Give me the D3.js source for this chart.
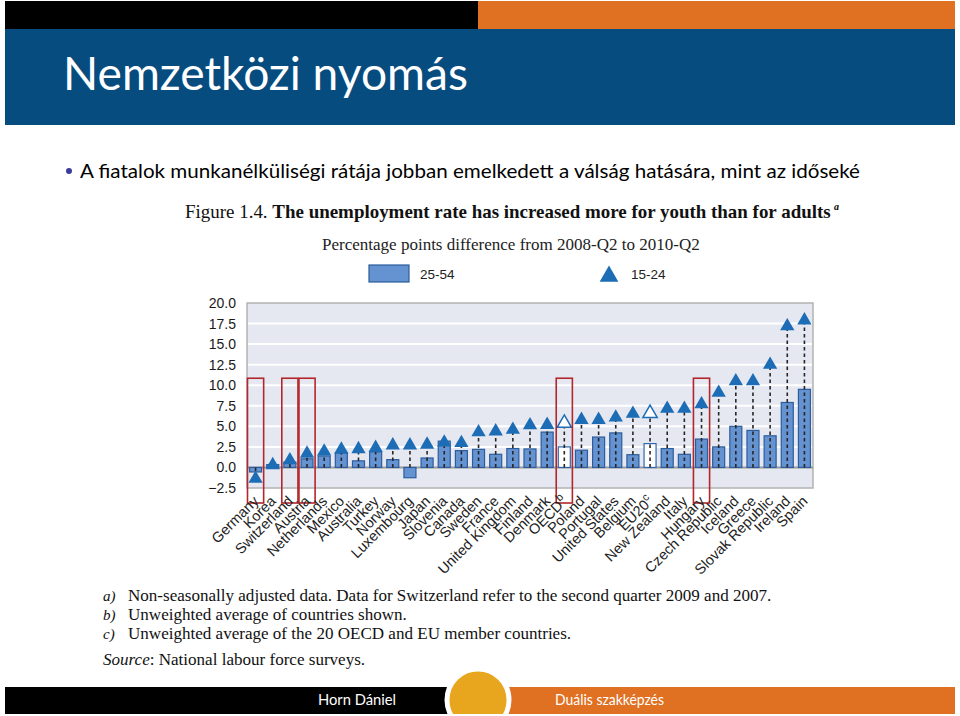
<!DOCTYPE html>
<html><head><meta charset="utf-8">
<script src="https://cdn.jsdelivr.net/npm/d3@7"></script>
<style>body{margin:0;background:#fff} svg{display:block}</style>
</head><body>
<svg id="c" width="960" height="716"></svg>
<script>
const countries = ["Germany","Korea","Switzerland","Austria","Netherlands","Mexico","Australia","Turkey","Norway","Luxembourg","Japan","Slovenia","Canada","Sweden","France","United Kingdom","Finland","Denmark","OECD","Poland","Portugal","United States","Belgium","EU20","New Zealand","Italy","Hungary","Czech Republic","Iceland","Greece","Slovak Republic","Ireland","Spain"];
const superscripts = {"OECD":"b","EU20":"c"};
const adults = [-0.55,0.35,0.65,1.05,1.4,1.75,0.8,1.9,0.95,-1.25,1.15,3.2,2.05,2.2,1.6,2.3,2.25,4.3,2.5,2.1,3.7,4.2,1.55,2.9,2.3,1.6,3.45,2.5,5.0,4.5,3.85,7.9,9.5];
const youth = [-1.15,0.5,1.1,1.9,2.15,2.4,2.45,2.6,2.9,2.9,3.0,3.25,3.2,4.5,4.6,4.8,5.35,5.4,5.6,6.0,6.0,6.3,6.75,6.8,7.35,7.35,7.9,9.3,10.7,10.7,12.7,17.4,18.1];
const averages = ["OECD","EU20"];
const highlighted = ["Germany","Switzerland","Austria","OECD","Hungary"];
const yTicks = [-2.5,0,2.5,5,7.5,10,12.5,15,17.5,20];
const seriesNames = ["25-54","15-24"];

const svg = d3.select("#c");

// ---------- slide header ----------
svg.append("rect").attr("x",5).attr("y",1).attr("width",473).attr("height",28).attr("fill","#000");
svg.append("rect").attr("x",478).attr("y",1).attr("width",477).attr("height",28).attr("fill","#e07122");
svg.append("rect").attr("x",5).attr("y",29).attr("width",950).attr("height",96).attr("fill","#074c7f");
svg.append("text").attr("x",63).attr("y",90).attr("fill","#fff")
  .attr("font-family","Lato, 'Open Sans', sans-serif").attr("font-size",46)
  .attr("textLength",405).attr("lengthAdjust","spacingAndGlyphs")
  .text("Nemzetközi nyomás");
svg.append("circle").attr("cx",69).attr("cy",171).attr("r",3).attr("fill","#3b3b9e");
svg.append("text").attr("x",80).attr("y",178).attr("fill","#000")
  .attr("font-family","Lato, 'Open Sans', sans-serif").attr("font-size",20)
  .attr("textLength",780).attr("lengthAdjust","spacingAndGlyphs")
  .text("A fiatalok munkanélküliségi rátája jobban emelkedett a válság hatására, mint az időseké");

// ---------- figure title ----------
function fit(sel, target){
  const len = sel.node().getComputedTextLength();
  const fs = parseFloat(sel.attr("font-size"));
  sel.attr("font-size", fs*target/len);
  return fs*target/len;
}
const serif = "'Liberation Serif','Times New Roman',serif";
const sans = "'Liberation Sans',Arial,sans-serif";
const title = svg.append("text").attr("x",185).attr("y",218).attr("font-family",serif).attr("font-size",16).attr("fill","#111");
title.append("tspan").text("Figure 1.4. ");
title.append("tspan").attr("font-weight","bold").text("The unemployment rate has increased more for youth than for adults");
fit(title, 646);
svg.append("text").attr("x",834).attr("y",210).attr("font-family",serif).attr("font-size",10).attr("font-weight","bold").attr("font-style","italic").text("a");

const sub = svg.append("text").attr("x",322).attr("y",250).attr("font-family",serif).attr("font-size",16).attr("fill","#222")
  .text("Percentage points difference from 2008-Q2 to 2010-Q2");
fit(sub, 378);

// ---------- scales ----------
const plot = {left:247, right:813, top:303, bottom:488};
const x = d3.scaleBand().domain(countries).range([plot.left, plot.right]).paddingInner(0.3).paddingOuter(0.15);
const y = d3.scaleLinear().domain([-2.5, 20]).range([plot.bottom, plot.top]);

const barFill = "#6592d0", barStroke = "#2c5d9c", triFill = "#1c6cb6";

// legend
const lg = svg.append("g");
lg.append("rect").attr("x",369).attr("y",265).attr("width",40).attr("height",17).attr("fill",barFill).attr("stroke",barStroke).attr("stroke-width",1.2);
lg.append("text").attr("x",420).attr("y",279).attr("font-family",sans).attr("font-size",13.5).attr("fill","#222").text(seriesNames[0]);
const triType = {draw(ctx, size){const w=Math.sqrt(size); ctx.moveTo(0,-w*0.5); ctx.lineTo(w*0.55,w*0.45); ctx.lineTo(-w*0.55,w*0.45); ctx.closePath();}};
lg.append("path").attr("d", d3.symbol().type(triType).size(17*17)()).attr("transform","translate(609,274)").attr("fill",triFill);
lg.append("text").attr("x",631).attr("y",279).attr("font-family",sans).attr("font-size",13.5).attr("fill","#222").text(seriesNames[1]);

// plot background
svg.append("rect").attr("x",plot.left).attr("y",plot.top).attr("width",plot.right-plot.left).attr("height",plot.bottom-plot.top)
  .attr("fill","#e5e8f1").attr("stroke","#b3b3b3").attr("stroke-width",1.5);
// gridlines
svg.append("g").selectAll("line").data(yTicks.filter(t=>t!==0 && t!==-2.5 && t!==20)).join("line")
  .attr("x1",plot.left+1).attr("x2",plot.right-1).attr("y1",d=>y(d)).attr("y2",d=>y(d))
  .attr("stroke","#fff").attr("stroke-width",2);
svg.append("line").attr("x1",plot.left).attr("x2",plot.right).attr("y1",y(0)).attr("y2",y(0)).attr("stroke","#9a9a9a").attr("stroke-width",2);

// y axis
const yAxis = d3.axisLeft(y).tickValues(yTicks).tickFormat(d3.format(".1f")).tickSize(0).tickPadding(11);
const ya = svg.append("g").attr("transform",`translate(${plot.left},0)`).call(yAxis);
ya.select(".domain").remove();
ya.selectAll("text").attr("font-family",sans).attr("font-size",14).attr("fill","#1a1a1a");

const data = countries.map((c,i)=>({c, a:adults[i], yv:youth[i], avg:averages.includes(c)}));

// bars
svg.append("g").selectAll("rect").data(data).join("rect")
  .attr("x",d=>x(d.c)).attr("width",x.bandwidth())
  .attr("y",d=>y(Math.max(0,d.a))).attr("height",d=>Math.abs(y(d.a)-y(0)))
  .attr("fill",d=>d.avg?"#fff":barFill).attr("stroke",d=>d.avg?"#2f68b0":barStroke).attr("stroke-width",1.2);

// dashed connectors
svg.append("g").selectAll("line").data(data).join("line")
  .attr("x1",d=>x(d.c)+x.bandwidth()/2).attr("x2",d=>x(d.c)+x.bandwidth()/2)
  .attr("y1",y(0)).attr("y2",d=>y(d.yv))
  .attr("stroke","#262626").attr("stroke-width",1.6).attr("stroke-dasharray","3.5,3");

// triangles
svg.append("g").selectAll("path").data(data).join("path")
  .attr("d", d3.symbol().type(triType).size(13*13)())
  .attr("transform",d=>`translate(${x(d.c)+x.bandwidth()/2},${y(d.yv)})`)
  .attr("fill",d=>d.avg?"#fff":triFill).attr("stroke",d=>d.avg?triFill:"none").attr("stroke-width",1.5);

// highlight boxes
const step = x.step();
svg.append("g").selectAll("rect").data(highlighted).join("rect")
  .attr("x",d=>x(d)+x.bandwidth()/2-step/2+0.5).attr("width",step-1)
  .attr("y",y(10.85)).attr("height",(plot.bottom+15)-y(10.85))
  .attr("fill","none").attr("stroke","#b3262b").attr("stroke-width",1.6);

// x labels
const xl = svg.append("g").selectAll("text").data(countries).join("text")
  .attr("transform",d=>`translate(${x(d)+x.bandwidth()/2+4},${plot.bottom+14}) rotate(-45)`)
  .attr("text-anchor","end").attr("font-family",sans).attr("font-size",14.5).attr("fill","#222");
xl.append("tspan").text(d=>d);
xl.filter(d=>superscripts[d]).append("tspan").attr("dy",-6).attr("font-size",11).text(d=>superscripts[d]);

// footnotes
const notes = [["a)","Non-seasonally adjusted data. Data for Switzerland refer to the second quarter 2009 and 2007."],
               ["b)","Unweighted average of countries shown."],
               ["c)","Unweighted average of the 20 OECD and EU member countries."]];
const noteY = [601,620,639];
let fs = 15;
notes.forEach((n,i)=>{
  svg.append("text").attr("x",103).attr("y",noteY[i]).attr("font-family",serif).attr("font-style","italic").attr("font-size",15).attr("fill","#111").text(n[0]);
  const t = svg.append("text").attr("x",128).attr("y",noteY[i]).attr("font-family",serif).attr("font-size",fs).attr("fill","#111").text(n[1]);
  if(i===0){ fs = fit(t, 644); }
});
const src = svg.append("text").attr("x",103).attr("y",665).attr("font-family",serif).attr("font-size",fs).attr("fill","#111");
src.append("tspan").attr("font-style","italic").text("Source");
src.append("tspan").text(": National labour force surveys.");

// footer
svg.append("rect").attr("x",5).attr("y",687).attr("width",470).attr("height",27).attr("fill","#000");
svg.append("rect").attr("x",478).attr("y",687).attr("width",477).attr("height",27).attr("fill","#e07122");
svg.append("defs").append("clipPath").attr("id","fc").append("rect").attr("x",0).attr("y",0).attr("width",960).attr("height",714);
svg.append("circle").attr("cx",478).attr("cy",700).attr("r",31).attr("fill","#e8a61e").attr("stroke","#fff").attr("stroke-width",5).attr("clip-path","url(#fc)");
svg.append("text").attr("x",357).attr("y",705).attr("text-anchor","middle").attr("fill","#fff")
  .attr("font-family","Lato, 'Open Sans', sans-serif").attr("font-size",15).attr("textLength",78).attr("lengthAdjust","spacingAndGlyphs").text("Horn Dániel");
svg.append("text").attr("x",555).attr("y",705).attr("fill","#fff")
  .attr("font-family","Lato, 'Open Sans', sans-serif").attr("font-size",15).attr("textLength",109).attr("lengthAdjust","spacingAndGlyphs").text("Duális szakképzés");
</script>
</body></html>
